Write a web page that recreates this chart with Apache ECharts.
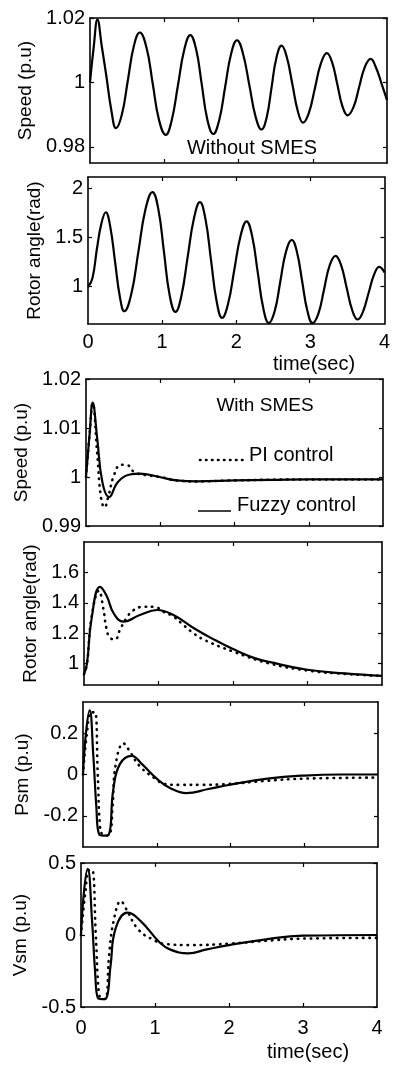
<!DOCTYPE html>
<html>
<head>
<meta charset="utf-8">
<script src="https://cdn.jsdelivr.net/npm/echarts@6/dist/echarts.min.js"></script>
<style>
html,body{margin:0;padding:0;background:#fff;}
#chart{width:393px;height:1068px;}
</style>
</head>
<body>
<div id="chart"></div>
<script>
// ---------- DATA ----------
// Panel 1: speed without SMES
const spd0T = [0,0.05,0.10,0.16,0.22,0.29,0.35,0.43,0.51,0.59,0.67,0.76,0.845,0.93,1.02,1.10,1.185,1.27,1.35,1.43,1.505,1.58,1.66,1.74,1.82,1.90,1.98,2.06,2.145,2.23,2.31,2.38,2.445,2.51,2.58,2.65,2.725,2.80,2.87,2.95,3.03,3.11,3.19,3.26,3.33,3.40,3.47,3.55,3.625,3.70,3.78,3.85,3.93,4.0];
const spd0V = [1.0,1.011,1.0195,1.011,1.002,0.991,0.9858,0.9901,1.0007,1.0112,1.0155,1.0109,0.9996,0.9883,0.9837,0.9882,0.9992,1.0102,1.0147,1.0102,0.9994,0.9885,0.984,0.9883,0.9986,1.0088,1.0131,1.009,0.9993,0.9894,0.9854,0.9892,0.9984,1.0076,1.0114,1.0079,0.9995,0.991,0.9875,0.9907,0.9983,1.0059,1.0091,1.0063,0.9995,0.9926,0.9898,0.9924,0.9986,1.0047,1.0073,1.0047,0.9994,0.9945];
// Panel 2: rotor angle without SMES
const ang0T = [0,0.06,0.12,0.18,0.24,0.30,0.365,0.43,0.49,0.585,0.68,0.775,0.87,0.95,1.025,1.10,1.18,1.26,1.345,1.43,1.51,1.585,1.66,1.735,1.81,1.89,1.975,2.06,2.14,2.215,2.29,2.365,2.44,2.52,2.595,2.67,2.75,2.82,2.89,2.96,3.03,3.11,3.185,3.26,3.34,3.415,3.49,3.565,3.64,3.71,3.785,3.86,3.93,3.965,4.0];
const ang0V = [0.99,1.08,1.38,1.64,1.758,1.61,1.25,0.89,0.741,0.92,1.353,1.786,1.965,1.785,1.35,0.914,0.734,0.899,1.30,1.696,1.861,1.687,1.267,0.846,0.672,0.817,1.17,1.52,1.665,1.512,1.143,0.773,0.62,0.745,1.047,1.348,1.473,1.348,1.047,0.745,0.62,0.72,0.965,1.21,1.31,1.214,0.983,0.752,0.656,0.735,0.926,1.117,1.196,1.18,1.14];
// Panel 3: speed with SMES
const spdFzT = [0,0.05,0.09,0.15,0.22,0.31,0.43,0.59,0.72,0.99,1.22,1.5,2.0,2.5,3.0,4.0];
const spdFzV = [1.0,1.009,1.0152,1.008,0.999,0.9959,0.999,1.0005,1.0007,1.0,0.9993,0.9991,0.9993,0.9994,0.9995,0.9995];
const spdPiT = [0,0.05,0.09,0.15,0.20,0.25,0.30,0.38,0.47,0.56,0.65,0.8,1.0,1.22,1.5,2.0,3.0,4.0];
const spdPiV = [1.0,1.009,1.015,1.005,0.996,0.9938,0.996,1.0005,1.0025,1.0024,1.001,1.0004,1.0,0.9993,0.9991,0.9993,0.9995,0.9995];
// Panel 4: rotor angle with SMES
const angFzT = [0,0.04,0.10,0.215,0.3,0.4,0.53,0.75,0.98,1.2,1.47,1.74,2.0,2.27,2.5,3.0,3.5,4.0];
const angFzV = [0.93,1.0,1.29,1.505,1.45,1.33,1.277,1.32,1.353,1.32,1.235,1.16,1.096,1.04,1.01,0.96,0.936,0.92];
const angPiT = [0,0.04,0.10,0.20,0.26,0.30,0.35,0.42,0.48,0.57,0.66,0.8,0.94,1.07,1.2,1.33,1.47,1.6,2.0,2.5,3.0,3.5,4.0];
const angPiV = [0.93,1.0,1.30,1.48,1.36,1.235,1.17,1.16,1.22,1.30,1.35,1.374,1.374,1.34,1.31,1.256,1.20,1.16,1.08,1.0,0.955,0.933,0.92];
// Panel 5: Psm
const psmFzT = [0,0.04,0.09,0.14,0.18,0.22,0.28,0.35,0.41,0.5,0.66,0.8,1.0,1.18,1.4,1.7,2.0,2.5,3.0,3.5,4.0];
const psmFzV = [0.0,0.2,0.31,0.09,-0.15,-0.29,-0.295,-0.29,-0.075,0.05,0.09,0.05,-0.02,-0.065,-0.09,-0.07,-0.049,-0.02,-0.005,0.0,0.0];
const psmPiT = [0,0.06,0.11,0.16,0.20,0.23,0.26,0.30,0.36,0.40,0.44,0.55,0.62,0.77,0.98,1.1,1.3,1.6,2.0,2.5,3.0,4.0];
const psmPiV = [0.0,0.22,0.30,0.30,0.0,-0.25,-0.29,-0.295,-0.29,-0.16,0.04,0.15,0.12,0.04,-0.02,-0.045,-0.05,-0.05,-0.045,-0.03,-0.02,-0.015];
// Panel 6: Vsm
const vsmFzT = [0,0.04,0.09,0.15,0.19,0.23,0.28,0.34,0.40,0.47,0.63,0.8,1.06,1.2,1.45,1.7,2.0,2.5,3.0,4.0];
const vsmFzV = [0.0,0.3,0.46,0.095,-0.25,-0.44,-0.445,-0.44,-0.21,0.05,0.155,0.10,-0.05,-0.10,-0.127,-0.10,-0.07,-0.03,-0.005,0.0];
const vsmPiT = [0,0.06,0.11,0.15,0.20,0.24,0.27,0.30,0.34,0.38,0.45,0.54,0.60,0.78,1.0,1.1,1.5,2.0,2.5,3.0,4.0];
const vsmPiV = [0.0,0.3,0.45,0.45,0.0,-0.40,-0.44,-0.445,-0.44,-0.14,0.12,0.235,0.19,0.035,-0.04,-0.06,-0.07,-0.06,-0.04,-0.025,-0.02];

// Axis settings (ranges and tick labels)
const yRanges = [[0.975,1.02],[0.61,2.12],[0.99,1.02],[0.86,1.8],[-0.35,0.35],[-0.5,0.5]];
const yTicks = [[0.98,1,1.02],[1,1.5,2],[0.99,1,1.01,1.02],[1,1.2,1.4,1.6],[-0.2,0,0.2],[-0.5,0,0.5]];
const yNames = ['Speed (p.u)','Rotor angle(rad)','Speed (p.u)','Rotor angle(rad)','Psm (p.u)','Vsm (p.u)'];
const xTicks = [0,1,2,3,4];

// ---------- LAYOUT ----------
const grids = [
  {left:90, top:18,  width:297, height:145},
  {left:88, top:177, width:297, height:147},
  {left:86, top:379, width:297, height:147},
  {left:84, top:542, width:298, height:143},
  {left:83, top:702, width:295, height:145},
  {left:81, top:863, width:296, height:144}
];
const nameGaps = [52, 33, 48, 31, 50, 49];
const xMargins = [8, 8, 8, 8, 8, 11];
const FONT = "'Liberation Sans', Arial, Helvetica, sans-serif";
const zip = (t, v) => t.map((x, i) => [x, v[i]]);
const fmt = v => String(+(+v).toFixed(3));

const xAxes = [], yAxes = [];
grids.forEach((g, i) => {
  const showX = (i === 1 || i === 5);
  const axLine = {show:true, onZero:false, lineStyle:{color:'#000', width:1.6}};
  const tick = {show:true, inside:true, length:4, lineStyle:{color:'#000', width:1.2}, customValues:[1,2,3]};
  xAxes.push({type:'value', gridIndex:i, position:'bottom', min:0, max:4, interval:1,
    axisLine:axLine, axisTick:tick, splitLine:{show:false},
    axisLabel:{show:showX, customValues:xTicks, formatter:fmt, color:'#000', fontFamily:FONT, fontSize:20, margin:xMargins[i]}});
  xAxes.push({type:'value', gridIndex:i, position:'top', min:0, max:4, interval:1,
    axisLine:axLine, axisTick:tick, splitLine:{show:false}, axisLabel:{show:false}});
  const ytick = {show:true, inside:true, length:4, lineStyle:{color:'#000', width:1.2}, customValues:yTicks[i]};
  yAxes.push({type:'value', gridIndex:i, position:'left', min:yRanges[i][0], max:yRanges[i][1],
    axisLine:axLine, axisTick:ytick, splitLine:{show:false},
    axisLabel:{customValues:yTicks[i], formatter:fmt, color:'#000', fontFamily:FONT, fontSize:20, margin:5},
    name:yNames[i], nameLocation:'middle', nameRotate:90, nameGap:nameGaps[i],
    nameTextStyle:{color:'#000', fontFamily:FONT, fontSize:19}});
  yAxes.push({type:'value', gridIndex:i, position:'right', min:yRanges[i][0], max:yRanges[i][1],
    axisLine:axLine, axisTick:ytick, splitLine:{show:false}, axisLabel:{show:false}});
});

const solid = {color:'#000', width:2.2};
const dotted = {color:'#000', width:2.6, type:[0.5,6], cap:'round'};
function mk(name, gi, data, ls) {
  return {name, type:'line', xAxisIndex:gi*2, yAxisIndex:gi*2, data, showSymbol:false, symbol:'none',
    smooth:0.45, lineStyle:ls, clip:true, silent:true, animation:false};
}
const series = [
  mk('speed0', 0, zip(spd0T, spd0V), solid),
  mk('angle0', 1, zip(ang0T, ang0V), solid),
  mk('PI control', 2, zip(spdPiT, spdPiV), dotted),
  mk('Fuzzy control', 2, zip(spdFzT, spdFzV), solid),
  mk('PI angle', 3, zip(angPiT, angPiV), dotted),
  mk('Fuzzy angle', 3, zip(angFzT, angFzV), solid),
  mk('PI Psm', 4, zip(psmPiT, psmPiV), dotted),
  mk('Fuzzy Psm', 4, zip(psmFzT, psmFzV), solid),
  mk('PI Vsm', 5, zip(vsmPiT, vsmPiV), dotted),
  mk('Fuzzy Vsm', 5, zip(vsmFzT, vsmFzV), solid)
];

const txt = (x, y, s, size, align) => ({type:'text', x, y,
  style:{text:s, fill:'#000', font:size + 'px ' + FONT, textAlign:align || 'center', textVerticalAlign:'middle'}});
const graphic = [
  txt(252, 148, 'Without SMES', 20),
  txt(314, 364, 'time(sec)', 20),
  txt(265, 406, 'With SMES', 19),
  {type:'line', shape:{x1:200, y1:460, x2:245, y2:460}, style:{stroke:'#000', lineWidth:2.6, lineDash:[0.5,5.5], lineCap:'round'}},
  txt(249, 455, 'PI control', 20, 'left'),
  {type:'line', shape:{x1:198, y1:511, x2:231, y2:511}, style:{stroke:'#000', lineWidth:1.6}},
  txt(237, 505, 'Fuzzy control', 20, 'left'),
  txt(308, 1052, 'time(sec)', 20)
];

const chart = echarts.init(document.getElementById('chart'), null, {renderer:'canvas'});
chart.setOption({
  animation:false,
  backgroundColor:'#fff',
  grid: grids.map(g => Object.assign({containLabel:false}, g)),
  xAxis: xAxes,
  yAxis: yAxes,
  series,
  graphic
});
</script>
</body>
</html>
